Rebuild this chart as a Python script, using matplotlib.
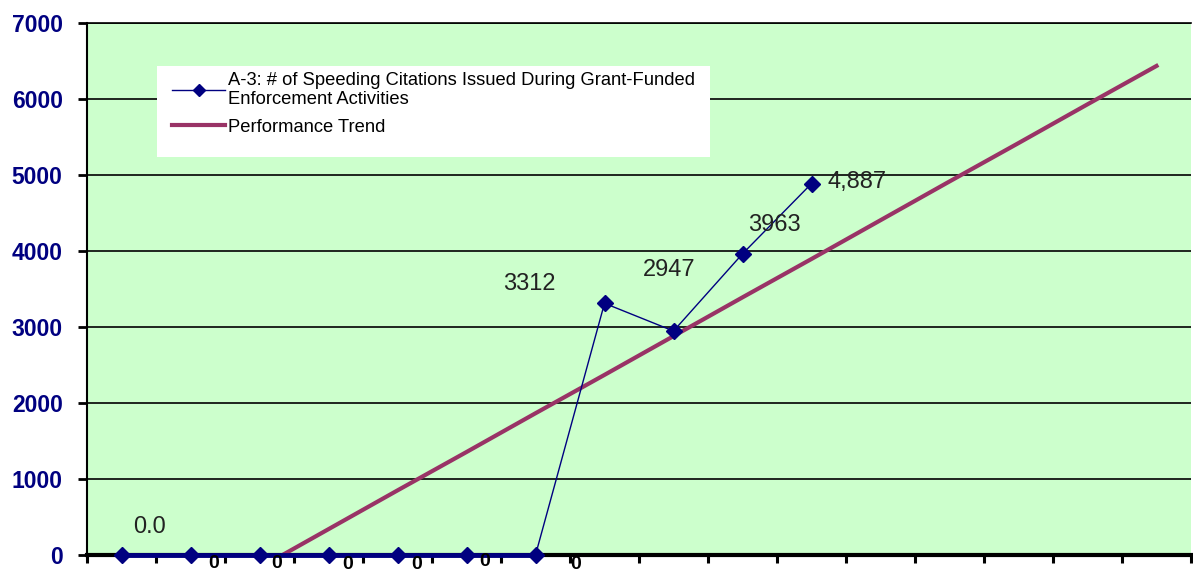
import matplotlib.pyplot as plt
from matplotlib.patches import Rectangle
import numpy as np

plt.rcParams['font.family'] = ['Liberation Sans', 'DejaVu Sans']

# data
cat_idx = list(range(16))
citations = [0, 0, 0, 0, 0, 0, 0, 3312, 2947, 3963, 4887]
trend_idx = list(range(2, 16))
trend_vals = [-170, 340, 850, 1355, 1865, 2370, 2880, 3390, 3895, 4405, 4915, 5420, 5930, 6435]
y_ticks = [0, 1000, 2000, 3000, 4000, 5000, 6000, 7000]

big_labels = {0: "0.0", 7: "3312", 8: "2947", 9: "3963", 10: "4,887"}
zero_labels = [1, 2, 3, 4, 5, 6]

navy = '#000080'
plum = '#993366'

fig = plt.figure(figsize=(11.93, 5.75), dpi=100)
ax = fig.add_axes([87 / 1193, 20 / 575, 1104 / 1193, 532 / 575])
ax.set_facecolor('#CCFFCC')

x_cit = cat_idx[:len(citations)]
ax.plot(trend_idx, trend_vals, color=plum, lw=3, zorder=3, label="Performance Trend")
ax.plot(x_cit, citations, color=navy, lw=1.0, marker='D', ms=8, zorder=4, clip_on=False,
        label="A-3: # of Speeding Citations Issued During Grant-Funded\nEnforcement Activities")
# flat part of the series looks heavier where it sits on the axis
flat = [i for i, v in enumerate(citations) if v == 0]
ax.plot([x_cit[i] for i in flat], [citations[i] for i in flat], color=navy, lw=3.5,
        zorder=4, clip_on=False, solid_capstyle='butt')

ax.set_xlim(-0.5, 15.5)
ax.set_ylim(0, 7000)
ax.set_xticks(np.arange(-0.5, 16, 1))
ax.set_xticklabels([])
ax.set_yticks(y_ticks)
ax.set_yticklabels([str(v) for v in y_ticks], fontsize=16.5, fontweight='bold', color=navy)
ax.tick_params(axis='y', length=6.5, width=2, pad=11, color='black')
ax.tick_params(axis='x', length=6, width=2.2, color='black')
ax.grid(axis='y', color='black', lw=1.2)
ax.set_axisbelow(True)

ax.spines['right'].set_visible(False)
ax.spines['top'].set_linewidth(1.2)
ax.spines['left'].set_linewidth(1.5)
ax.spines['bottom'].set_linewidth(3)

# data labels
offsets = {0: (20, 20), 7: (-54, 14), 8: (-3, 44), 9: (23, 21), 10: (33, 1)}
for i, txt in big_labels.items():
    ax.annotate(txt, (i, citations[i]), xytext=offsets[i], textcoords='offset points',
                ha='center', va='center', fontsize=17, color='#222222', zorder=6,
                annotation_clip=False)

zero_off = [(17, -6), (12, -6), (14, -6.5), (14, -6.5), (13, -5), (29, -7)]
for (i, off) in zip(zero_labels, zero_off):
    ax.annotate("0", (i, citations[i]), xytext=off, textcoords='offset points',
                ha='center', va='center', fontsize=14, fontweight='bold', color='black',
                zorder=6, annotation_clip=False)

# legend box
ax.add_patch(Rectangle((157 / 1193, 1 - 157 / 575), 553 / 1193, 91 / 575,
                       transform=fig.transFigure, facecolor='white', edgecolor='none',
                       zorder=5))
handles, labels = ax.get_legend_handles_labels()
leg = ax.legend(handles[::-1], labels[::-1], loc='upper left',
                bbox_to_anchor=(172 / 1193, 1 - 72 / 575), bbox_transform=fig.transFigure,
                frameon=False, fontsize=13.2, handlelength=2.9, handletextpad=0.15,
                labelspacing=0.6, borderpad=0, borderaxespad=0)
leg.set_zorder(7)
for t in leg.get_texts():
    t.set_linespacing(1.12)
for h in leg.legend_handles:
    if h.get_marker() == 'D':
        h.set_markersize(6.5)

fig.savefig('out.png', dpi=100)
